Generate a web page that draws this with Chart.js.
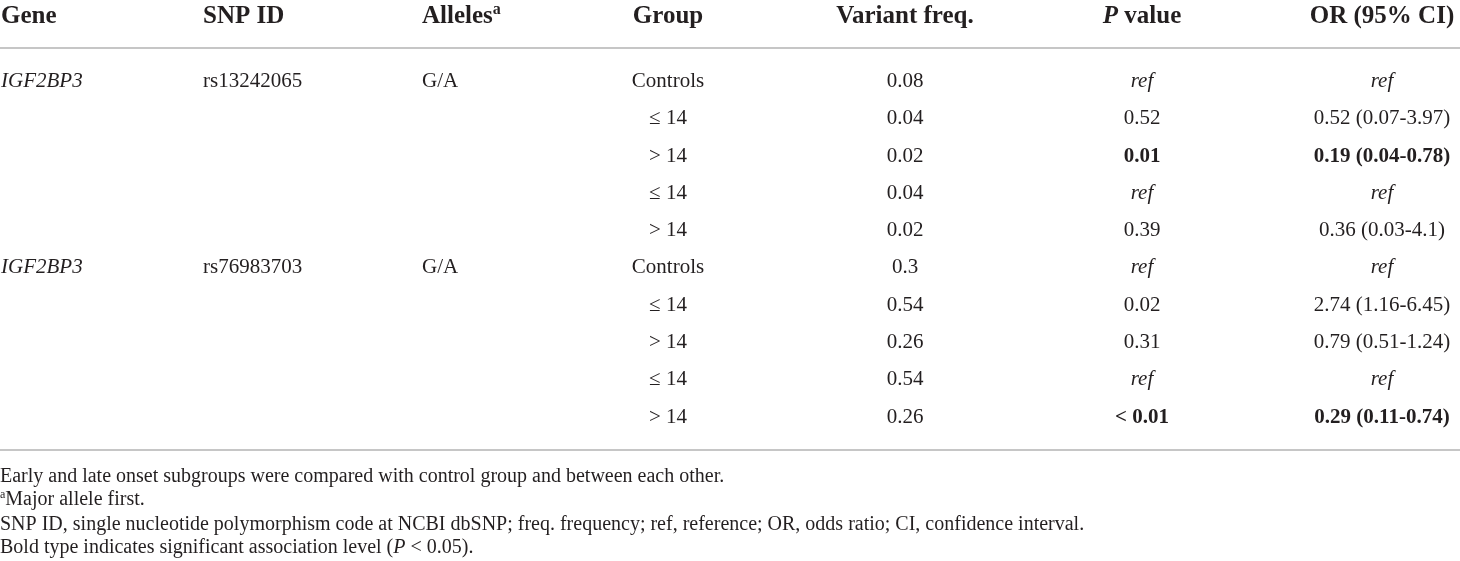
<!DOCTYPE html>
<html lang="en">
<head>
    <meta charset="UTF-8">
    <title>IGF2BP3 variants by age at onset</title>
    <script src="https://cdn.jsdelivr.net/npm/chart.js"></script>
    <style>
        body { margin: 0; background: #fff; }
        #wrap { width: 1460px; height: 561px; position: relative; }
    </style>
</head>
<body>
    <div id="wrap"><canvas id="tableChart"></canvas></div>

    <script>
        // table content
        const headers = ['Gene', 'SNP ID', [{ t: 'Alleles' }, { t: 'a', sup: true }], 'Group',
            'Variant freq.', [{ t: 'P', it: true }, { t: ' value' }], 'OR (95% CI)'];
        const geneRows = [0, 5];
        const genes = ['IGF2BP3', 'IGF2BP3'];
        const snpIds = ['rs13242065', 'rs76983703'];
        const alleles = ['G/A', 'G/A'];
        const groups = ['Controls', '≤ 14', '> 14', '≤ 14', '> 14', 'Controls', '≤ 14', '> 14', '≤ 14', '> 14'];
        const variantFreq = ['0.08', '0.04', '0.02', '0.04', '0.02', '0.3', '0.54', '0.26', '0.54', '0.26'];
        const pValues = ['ref', '0.52', '0.01', 'ref', '0.39', 'ref', '0.02', '0.31', 'ref', '< 0.01'];
        const oddsRatios = ['ref', '0.52 (0.07-3.97)', '0.19 (0.04-0.78)', 'ref', '0.36 (0.03-4.1)',
            'ref', '2.74 (1.16-6.45)', '0.79 (0.51-1.24)', 'ref', '0.29 (0.11-0.74)'];
        const significant = [false, false, true, false, false, false, false, false, false, true];
        const footnotes = [
            'Early and late onset subgroups were compared with control group and between each other.',
            [{ t: 'a', sup: true }, { t: 'Major allele first.' }],
            'SNP ID, single nucleotide polymorphism code at NCBI dbSNP; freq. frequency; ref, reference; OR, odds ratio; CI, confidence interval.',
            [{ t: 'Bold type indicates significant association level (' }, { t: 'P', it: true }, { t: ' < 0.05).' }]
        ];

        // layout (scale units)
        const colX = [0.01, 2.03, 4.22, 6.68, 9.05, 11.42, 13.82];
        const colAlign = ['left', 'left', 'left', 'center', 'center', 'center', 'center'];
        const headerY = -1.76;
        const ruleY = [-0.86, 9.92];
        const footY = [10.6, 11.23, 11.88, 12.5];
        const FAMILY = '"Liberation Serif", "Times New Roman", serif';

        function font(size, bold, italic) {
            return (italic ? 'italic ' : '') + (bold ? 'bold ' : '') + size + 'px ' + FAMILY;
        }

        function toRuns(cell, opts) {
            const runs = typeof cell === 'string' ? [{ t: cell }] : cell;
            // baseline sits a third of the font size under the mark, so caps centre on it
            const base = opts.size * 0.33;
            return runs.map(r => ({
                t: r.t,
                font: font(r.sup ? Math.round(opts.size * 0.62) : opts.size, opts.bold,
                    r.it || opts.italic || r.t === 'ref'),
                dy: base - (r.sup ? opts.size * 0.36 : 0)
            }));
        }

        function drawRuns(ctx, runs, x, y, align) {
            let total = 0;
            runs.forEach(r => { ctx.font = r.font; r.w = ctx.measureText(r.t).width; total += r.w; });
            let cx = align === 'center' ? x - total / 2 : x;
            runs.forEach(r => { ctx.font = r.font; ctx.fillText(r.t, cx, y + r.dy); cx += r.w; });
        }

        function column(key, rows, values, col, style) {
            return {
                label: key,
                data: rows.map(i => ({ x: colX[col], y: i })),
                cells: values,
                align: colAlign[col],
                style: style,
                pointRadius: 0
            };
        }

        const allRows = groups.map((_, i) => i);
        const datasets = [
            {
                label: 'header',
                data: headers.map((_, c) => ({ x: colX[c], y: headerY })),
                cells: headers,
                align: colAlign,
                style: () => ({ size: 25, bold: true }),
                pointRadius: 0
            },
            column('gene', geneRows, genes, 0, () => ({ size: 21, italic: true })),
            column('snp', geneRows, snpIds, 1, () => ({ size: 21 })),
            column('alleles', geneRows, alleles, 2, () => ({ size: 21 })),
            column('group', allRows, groups, 3, () => ({ size: 21 })),
            column('freq', allRows, variantFreq, 4, () => ({ size: 21 })),
            column('p', allRows, pValues, 5, i => ({ size: 21, bold: significant[i] })),
            column('or', allRows, oddsRatios, 6, i => ({ size: 21, bold: significant[i] })),
            {
                label: 'notes',
                data: footnotes.map((_, i) => ({ x: colX[0] - 0.01, y: footY[i] })),
                cells: footnotes,
                align: 'left',
                style: () => ({ size: 20 }),
                pointRadius: 0
            }
        ];

        const tablePlugin = {
            id: 'tableText',
            afterDatasetsDraw(chart) {
                const ctx = chart.ctx;
                const area = chart.chartArea;
                const yScale = chart.scales.y;
                ctx.save();
                // horizontal rules
                ctx.strokeStyle = '#c6c6c6';
                ctx.lineWidth = 2;
                ruleY.forEach(v => {
                    const py = Math.round(yScale.getPixelForValue(v));
                    ctx.beginPath();
                    ctx.moveTo(area.left, py);
                    ctx.lineTo(area.right, py);
                    ctx.stroke();
                });
                // cell text
                ctx.fillStyle = '#231f20';
                ctx.textBaseline = 'alphabetic';
                chart.data.datasets.forEach((ds, d) => {
                    const meta = chart.getDatasetMeta(d);
                    meta.data.forEach((pt, i) => {
                        const align = Array.isArray(ds.align) ? ds.align[i] : ds.align;
                        drawRuns(ctx, toRuns(ds.cells[i], ds.style(i)), pt.x, pt.y, align);
                    });
                });
                ctx.restore();
            }
        };

        new Chart(document.getElementById('tableChart'), {
            type: 'scatter',
            data: { datasets: datasets },
            options: {
                responsive: true,
                maintainAspectRatio: false,
                animation: false,
                layout: { padding: 0 },
                plugins: { legend: { display: false }, tooltip: { enabled: false } },
                scales: {
                    x: { type: 'linear', min: 0, max: 14.6, display: false },
                    y: { type: 'linear', min: -2.15, max: 12.9, reverse: true, display: false }
                }
            },
            plugins: [tablePlugin]
        });
    </script>
</body>
</html>
